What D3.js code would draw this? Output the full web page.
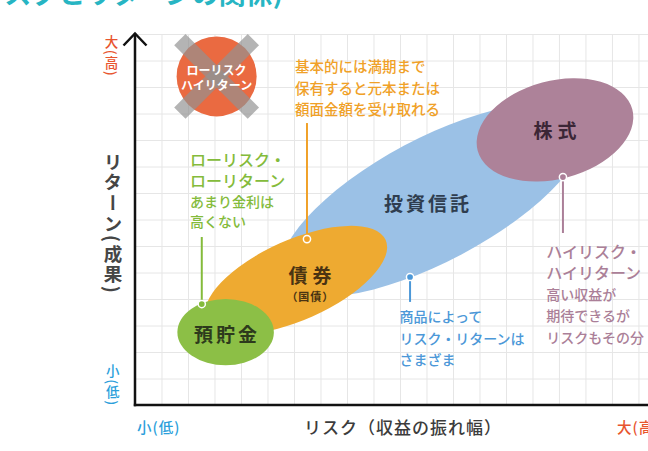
<!DOCTYPE html>
<html><head><meta charset="utf-8">
<script src="https://cdn.jsdelivr.net/npm/d3@7"></script>
<style>
html,body{margin:0;padding:0;background:#fff;overflow:hidden}
text{font-family:"Noto Sans CJK JP","Noto Sans",sans-serif}
.vt{writing-mode:vertical-rl;text-orientation:mixed}
</style></head><body>
<svg id="c" width="648" height="451"></svg>
<script>
// ---------- data ----------
const titleText = "(リスクとリターンの関係)";
const xTitle = "リスク（収益の振れ幅）";
const yTitle = "リターン(成果)";
const lowLabel = "小(低)";
const highLabel = "大(高)";

const assets = ["預貯金", "債券", "投資信託", "株式"];
const assetSub = ["", "（国債）", "", ""];
// ellipse centres, in risk / return grid units
const riskCenter   = [3.42, 6.08, 11.25, 15.85];
const returnCenter = [2.75, 4.72, 7.74, 10.38];
const spreadMajor  = [1.82, 3.70, 6.42, 3.02];
const spreadMinor  = [1.25, 1.51, 2.32, 1.85];
const tiltDeg      = [0, 24, 28, 15];
const labelRisk    = [3.42, 6.60, 11.00, 15.85];
const labelReturn  = [2.68, 4.94, 7.64, 10.40];
const drawOrder    = [2, 3, 1, 0];

const avoidLines = ["ローリスク", "ハイリターン"];
const avoidRisk = 3.08, avoidReturn = 12.4, avoidRadius = 1.51;

const noteLines = [
  ["ローリスク・", "ローリターン", "あまり金利は", "高くない"],
  ["基本的には満期まで", "保有すると元本または", "額面金額を受け取れる"],
  ["商品によって", "リスク・リターンは", "さまざま"],
  ["ハイリスク・", "ハイリターン", "高い収益が", "期待できるが", "リスクもその分"]
];
const noteHeadCount = [2, 0, 0, 2];
const noteRisk   = [2.08, 6.04, 9.98, 15.52];
const noteReturn = [9.27, 12.83, 3.34, 5.83];
const noteStep   = [20.6, 21.7, 21.3, 21.5];
const dotRisk    = [2.52, 6.49, 10.38, 16.15];
const dotReturn  = [3.81, 6.26, 4.83, 8.60];
const leaderEnd  = [6.34, 10.64, 3.89, 6.49];

// ---------- styles ----------
const fillColors = ["#8cbf46", "#eeaa31", "#9bc1e6", "#ad8299"];
const labelColors = ["#2d3a1c", "#4a3312", "#2f3d4f", "#3b2636"];
const noteColors = ["#84bb3b", "#f0a128", "#4c98d8", "#ab7f98"];

// ---------- scales ----------
const svg = d3.select("#c");
const x = d3.scaleLinear().domain([0, 19.36]).range([135, 648]);
const y = d3.scaleLinear().domain([0, 14]).range([405, 34]);
const u = x(1) - x(0);

// title (cut by the top edge)
svg.append("text").attr("x", 283).attr("y", 4).attr("text-anchor", "end")
  .attr("font-size", 27).attr("font-weight", 700).attr("fill", "#27b5c3")
  .text(titleText);

// grid
svg.append("g").attr("transform", `translate(0,${y(0)})`)
  .call(d3.axisBottom(x).tickValues(d3.range(1, 20)).tickSize(-(y(0) - y(14))).tickFormat(""))
  .call(g => g.select(".domain").remove())
  .call(g => g.selectAll("line").attr("stroke", "#e6e6e6"));
svg.append("g").attr("transform", `translate(${x(0)},0)`)
  .call(d3.axisLeft(y).tickValues(d3.range(1, 15)).tickSize(-(x(19.36) - x(0))).tickFormat(""))
  .call(g => g.select(".domain").remove())
  .call(g => g.selectAll("line").attr("stroke", "#e6e6e6"));

// ellipses
svg.append("g").selectAll("ellipse").data(drawOrder).join("ellipse")
  .attr("transform", i => `translate(${x(riskCenter[i])},${y(returnCenter[i])}) rotate(${-tiltDeg[i]})`)
  .attr("rx", i => spreadMajor[i] * u)
  .attr("ry", i => spreadMinor[i] * u)
  .attr("fill", i => fillColors[i]);

// leaders
const lg = svg.append("g");
assets.forEach((a, i) => {
  lg.append("line")
    .attr("x1", x(dotRisk[i])).attr("x2", x(dotRisk[i]))
    .attr("y1", y(dotReturn[i])).attr("y2", y(leaderEnd[i]))
    .attr("stroke", noteColors[i]).attr("stroke-width", 2);
  lg.append("circle").attr("cx", x(dotRisk[i])).attr("cy", y(dotReturn[i])).attr("r", 3.6)
    .attr("fill", noteColors[i]).attr("stroke", "#fff").attr("stroke-width", 1.5);
});

// notes (one text block per note)
const ng = svg.append("g");
noteLines.forEach((lines, i) => {
  const t = ng.append("text").attr("dominant-baseline", "central")
    .attr("font-weight", 500).attr("fill", noteColors[i]);
  lines.forEach((s, k) => {
    const head = k < noteHeadCount[i];
    t.append("tspan")
      .attr("x", x(noteRisk[i])).attr("y", y(noteReturn[i]) + k * noteStep[i])
      .attr("font-size", head ? 16 : (i === 1 ? 14.5 : 14))
      .text(s);
  });
});

// asset labels
const ag = svg.append("g");
assets.forEach((a, i) => {
  const ls = a.length === 2 ? 5 : 3;
  ag.append("text").attr("x", x(labelRisk[i]) + ls / 2).attr("y", y(labelReturn[i]))
    .attr("text-anchor", "middle").attr("dominant-baseline", "central")
    .attr("font-size", 19).attr("font-weight", 700).attr("letter-spacing", ls)
    .attr("fill", labelColors[i]).text(a);
  if (assetSub[i]) {
    ag.append("text").attr("x", x(labelRisk[i]) + 0.5).attr("y", y(labelReturn[i]) + 22)
      .attr("text-anchor", "middle").attr("dominant-baseline", "central")
      .attr("font-size", 11).attr("font-weight", 700).attr("letter-spacing", 1)
      .attr("fill", labelColors[i]).text(assetSub[i]);
  }
});

// low-risk high-return: crossed out
const cg = svg.append("g").attr("transform", `translate(${x(avoidRisk)},${y(avoidReturn)})`);
cg.append("circle").attr("r", avoidRadius * u).attr("fill", "#ea6a41");
[45, -45].forEach(r => {
  cg.append("rect").attr("x", -52).attr("y", -8).attr("width", 104).attr("height", 16)
    .attr("transform", `rotate(${r})`).attr("fill", "#929292").attr("opacity", 0.685);
});
const ct = cg.append("text").attr("text-anchor", "middle").attr("dominant-baseline", "central")
  .attr("font-size", 12).attr("font-weight", 700).attr("fill", "#fff");
avoidLines.forEach((s, k) => {
  ct.append("tspan").attr("x", 0).attr("y", -7.5 + k * 15.5).text(s);
});

// axes
const axisG = svg.append("g").attr("stroke", "#111").attr("stroke-width", 2.5).attr("fill", "none");
axisG.append("line").attr("x1", x(0)).attr("x2", x(0)).attr("y1", y(0) + 1.2).attr("y2", y(14) - 0.5);
axisG.append("line").attr("x1", x(0) - 1.2).attr("x2", 648).attr("y1", y(0)).attr("y2", y(0));
axisG.append("path")
  .attr("d", `M${x(0) - 11.5},${y(14) + 11.5}L${x(0)},${y(14) - 0.5}L${x(0) + 11.5},${y(14) + 11.5}`);

// vertical labels
function vText(str, cx, top, size, ls, color, weight) {
  svg.append("text").attr("class", "vt").attr("writing-mode", "tb")
    .attr("x", cx).attr("y", top)
    .attr("font-size", size).attr("font-weight", weight).attr("letter-spacing", ls)
    .attr("fill", color).text(str);
}
vText(highLabel, 111.5, 34.8, 13.5, 1.5, "#e8552f", 500);
vText(lowLabel, 112.7, 364.3, 13.5, 1.5, "#2c9fdb", 500);
vText(yTitle, 113, 152.3, 18.5, 2.2, "#464646", 700);

// x-axis labels
svg.append("text").attr("x", 137).attr("y", 426.5).attr("dominant-baseline", "central")
  .attr("font-size", 14.5).attr("font-weight", 500).attr("letter-spacing", 1).attr("fill", "#2c9fdb").text(lowLabel);
svg.append("text").attr("x", 304).attr("y", 426).attr("dominant-baseline", "central")
  .attr("font-size", 17).attr("font-weight", 500).attr("letter-spacing", 1).attr("fill", "#3c3c3c").text(xTitle);
svg.append("text").attr("x", 617).attr("y", 426.5).attr("dominant-baseline", "central")
  .attr("font-size", 14.5).attr("font-weight", 500).attr("letter-spacing", 1).attr("fill", "#e8552f").text(highLabel);
</script>
</body></html>
